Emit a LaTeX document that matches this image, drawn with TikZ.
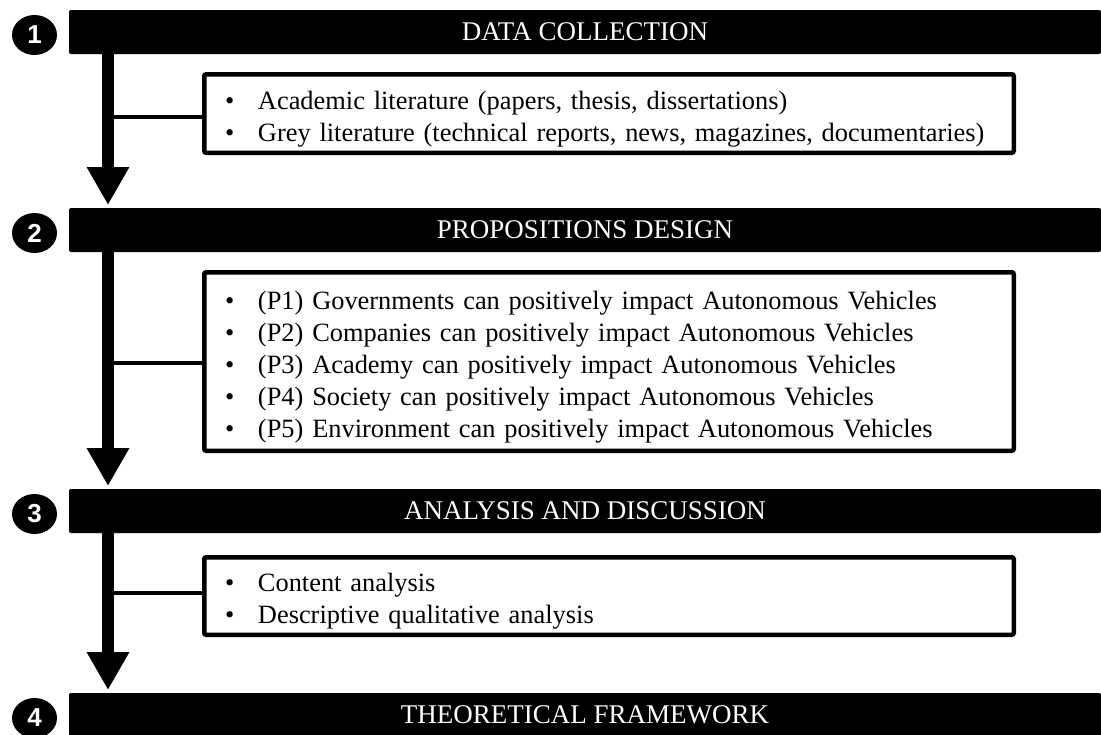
\documentclass[tikz,border=0pt]{standalone}
\usepackage{fontspec}
\setmainfont{Liberation Serif}
\setsansfont{Liberation Sans}
\usetikzlibrary{arrows.meta,shapes.geometric}
\tikzset{
  bar/.style={fill=black, rounded corners=2pt, minimum height=44pt, minimum width=1032pt,
    inner sep=0pt, outer sep=0pt, text=white, anchor=north west,
    font=\fontsize{27}{30}\selectfont},
  num/.style={ellipse, fill=black, minimum width=45pt, minimum height=40pt, inner sep=0pt,
    text=white, font=\fontsize{26}{26}\sffamily\bfseries},
  listbox/.style={draw=black, line width=4.5pt, rounded corners=2pt, anchor=north west,
    minimum width=809.5pt, text width=768pt, align=left, inner xsep=0pt, inner ysep=0pt,
    font=\fontsize{26.4}{32}\selectfont},
  flow/.style={line width=12pt, -{Triangle[width=40pt,length=38pt]}, shorten >=3pt},
  link/.style={line width=4pt},
}
\newcommand{\itm}[1]{\makebox[33pt][l]{\textbullet}#1}
\newcommand{\topstr}{\rule{0pt}{29pt}}
\newcommand{\botstr}{\rule[-6pt]{0pt}{6pt}}
\begin{document}
\begin{tikzpicture}[x=1pt,y=-1pt]
\useasboundingbox (0,0) rectangle (1101,734);
\coordinate (sx) at (108,0);
% bars
\node[bar] (bar1) at (69,10) {DATA COLLECTION};
\node[bar] (bar2) at (69,208) {PROPOSITIONS DESIGN};
\node[bar] (bar3) at (69,489) {ANALYSIS AND DISCUSSION};
\node[bar] (bar4) at (69,693) {THEORETICAL FRAMEWORK};
% numbers
\node[num] (n1) at (34.5,35) {1};
\node[num] (n2) at (34.5,233) {2};
\node[num] (n3) at (34.5,514) {3};
\node[num] (n4) at (34.5,718) {4};
% boxes
\node[listbox, minimum height=78.5pt] (box1) at (202,72) {%
\topstr\itm{Academic literature (papers, thesis, dissertations)}\\
\itm{Grey literature (technical reports, news, magazines, documentaries)}\botstr};
\node[listbox, minimum height=178.5pt] (box2) at (202,270) {%
\topstr\itm{(P1) Governments can positively impact Autonomous Vehicles}\\
\itm{(P2) Companies can positively impact Autonomous Vehicles}\\
\itm{(P3) Academy can positively impact Autonomous Vehicles}\\
\itm{(P4) Society can positively impact Autonomous Vehicles}\\
\itm{(P5) Environment can positively impact Autonomous Vehicles}\botstr};
\node[listbox, minimum height=77.5pt] (box3) at (202,555) {%
\topstr\itm{Content analysis}\\
\itm{Descriptive qualitative analysis}\botstr};
% flow arrows
\draw[flow] (bar1.south -| sx) -- (bar2.north -| sx);
\draw[flow] (bar2.south -| sx) -- (bar3.north -| sx);
\draw[flow] (bar3.south -| sx) -- (bar4.north -| sx);
% links
\coordinate (c1) at ([yshift=-3.5pt]box1.west);
\coordinate (c2) at ([yshift=-1.5pt]box2.west);
\coordinate (c3) at ([yshift=3pt]box3.west);
\draw[link] (c1) -- (c1 -| sx);
\draw[link] (c2) -- (c2 -| sx);
\draw[link] (c3) -- (c3 -| sx);
\end{tikzpicture}
\end{document}
